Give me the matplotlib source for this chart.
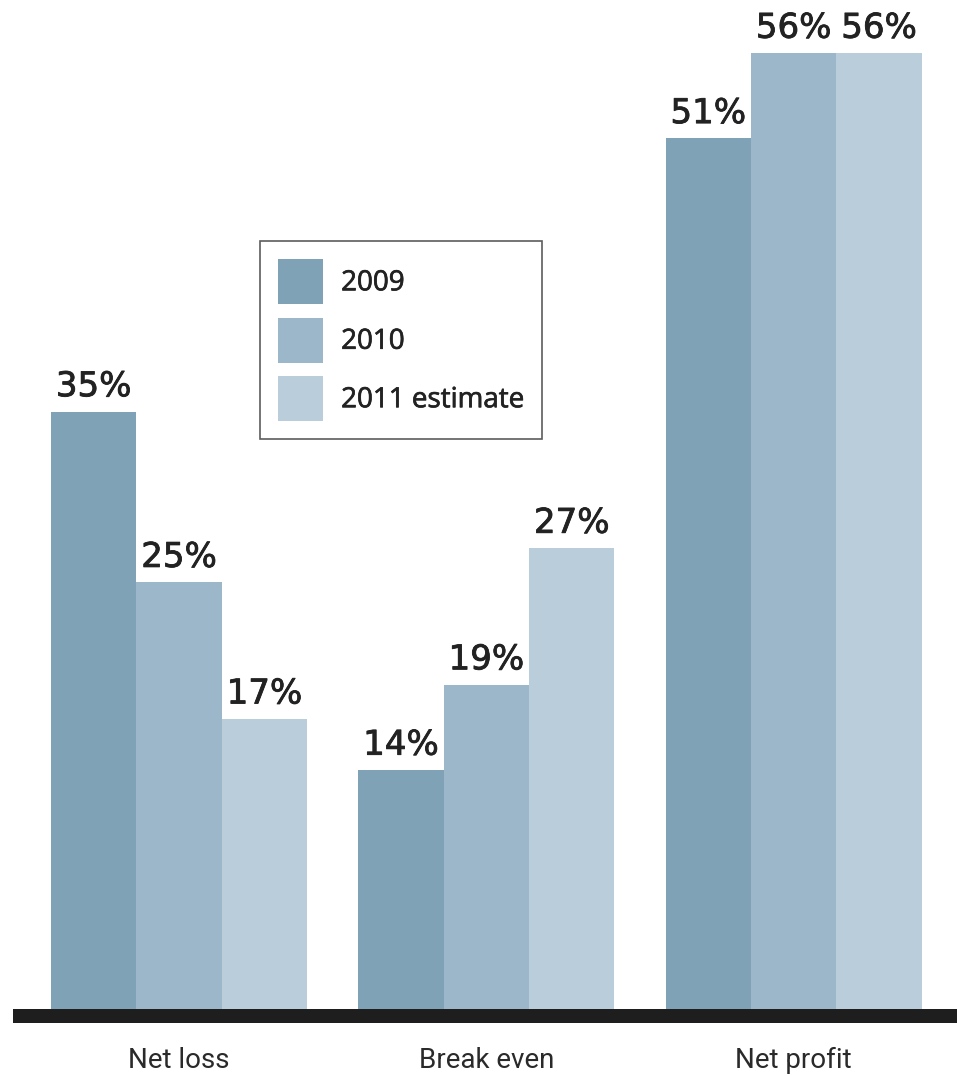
import matplotlib
matplotlib.use("Agg")
import matplotlib.pyplot as plt
import matplotlib.patheffects as pe
from matplotlib.patches import Patch
import numpy as np

categories = ["Net loss", "Break even", "Net profit"]
series_names = ["2009", "2010", "2011 estimate"]
values_2009 = [35, 14, 51]
values_2010 = [25, 19, 56]
values_2011 = [17, 27, 56]
series_values = [values_2009, values_2010, values_2011]
colors = ["#80a2b7", "#9db7ca", "#b9cddb"]

W, H = 957, 1076
fig = plt.figure(figsize=(W / 100, H / 100), dpi=100)

# axis geometry (in pixels) for the plotting area
base_px = 1009          # y pixel of the zero line (from top)
bar_thick_px = 14       # thickness of the black base bar
px_per_unit = 17.07     # vertical pixels per percentage point
group_px = 307.3        # distance between group centres
first_center_px = 179
left_px, right_px = 13, 957

ax = fig.add_axes([left_px / W, (H - base_px - bar_thick_px) / H,
                   (right_px - left_px) / W, (base_px + bar_thick_px) / H])
ax.set_xlim((left_px - first_center_px) / group_px, (right_px - first_center_px) / group_px)
y_low = -bar_thick_px / px_per_unit
ax.set_ylim(y_low, base_px / px_per_unit)
ax.axis("off")

text_color = "#222222"
x = np.arange(len(categories))
bar_w = 85.4 / group_px
for i, (vals, col) in enumerate(zip(series_values, colors)):
    pos = x + (i - 1) * bar_w
    bars = ax.bar(pos, vals, width=bar_w, color=col, linewidth=0, zorder=2)
    for b, v in zip(bars, vals):
        ax.annotate(f"{v}%", (b.get_x() + b.get_width() / 2, v),
                    xytext=(0, 6), textcoords="offset points",
                    ha="center", va="bottom", fontsize=24.5,
                    color=text_color, family="DejaVu Sans",
                    path_effects=[pe.withStroke(linewidth=0.6, foreground=text_color)])

# thick black base line
ax.axhspan(y_low, 0, color="#1e1e1e", zorder=3, linewidth=0)

# category labels below the base line
for xi, name in zip(x, categories):
    fig.text((first_center_px + xi * group_px) / W, 1 - 1060 / H, name,
             ha="center", va="center", fontsize=20, color="#2a2a2a",
             family=["Roboto", "DejaVu Sans"])

handles = [Patch(facecolor=c, edgecolor="none") for c in colors]
leg = fig.legend(handles, series_names, loc="upper left",
                 bbox_to_anchor=(260 / W, 1 - 241 / H), bbox_transform=fig.transFigure,
                 frameon=True, fancybox=False, handlelength=1.62, handleheight=2.115,
                 handletextpad=0.65, labelspacing=0.485, borderpad=0.65,
                 borderaxespad=0, prop={"family": "Open Sans", "size": 20})
leg.get_frame().set_edgecolor("#333333")
leg.get_frame().set_linewidth(1.2)
for t in leg.get_texts():
    t.set_color(text_color)
    t.set_path_effects([pe.withStroke(linewidth=0.5, foreground=text_color)])

fig.savefig("out.png", dpi=100, facecolor="white")
